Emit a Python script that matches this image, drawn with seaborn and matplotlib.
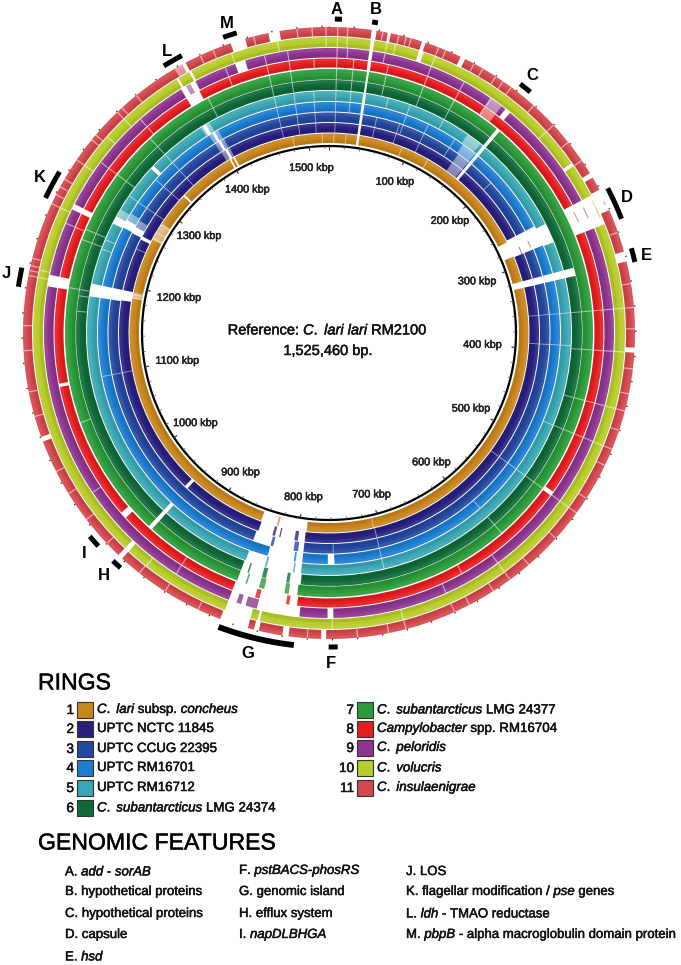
import numpy as np
import pandas as pd
import seaborn as sns
import matplotlib.pyplot as plt
import matplotlib.patheffects as pe

genome_kbp = 1525.46

ring_names = [r'$\mathit{C.\ lari}$ subsp. $\mathit{concheus}$', 'UPTC NCTC 11845', 'UPTC CCUG 22395',
              'UPTC RM16701', 'UPTC RM16712', r'$\mathit{C.\ subantarcticus}$ LMG 24374',
              r'$\mathit{C.\ subantarcticus}$ LMG 24377', r'$\mathit{Campylobacter}$ spp. RM16704',
              r'$\mathit{C.\ peloridis}$', r'$\mathit{C.\ volucris}$', r'$\mathit{C.\ insulaenigrae}$']
ring_colors = ['#C8851C', '#28207F', '#23479E', '#1C7CD0', '#3AA7B5', '#0F6A38',
               '#2A9A3A', '#E51E20', '#8E3590', '#B8CC2A', '#D4474C']
ring_inner = [190, 200.5, 211, 221.5, 232, 243, 253.5, 265.5, 275.5, 286, 297]
ring_outer = [199.5, 210, 220.5, 231, 242, 253, 264, 274.5, 285, 296, 306]

# unaligned stretches per ring, kbp
gaps_1 = [(34.5, 37.5), (267, 286), (318, 326), (790, 847), (1327, 1329.5), (1399, 1401), (1404, 1406)]
gaps_2 = [(34.5, 37.5), (167, 170.5), (265, 287), (318, 326), (791, 846), (942, 946), (1182, 1194), (1256, 1260), (1400, 1403)]
gaps_3 = [(34.5, 37.5), (167, 170.5), (265, 287), (318, 326), (791, 848), (1181, 1194), (1258, 1266), (1398, 1401)]
gaps_4 = [(34.5, 37.5), (167, 170.5), (265, 287), (318, 326), (757, 764), (791, 828), (1181, 1194), (1259, 1268), (1397, 1400)]
gaps_5 = [(34.5, 37.5), (167, 170.5), (268, 288), (318, 326), (791, 848), (941, 945), (1181, 1194), (1258, 1266), (1325, 1329), (1392, 1396)]
gaps_6 = [(35, 37), (167, 170.5), (318, 326), (790, 849), (941, 945)]
gaps_7 = [(35, 37), (167, 170.5), (792, 849), (941, 945)]
gaps_8 = [(34.5, 37.5), (264, 290), (531, 535), (791, 850), (965, 971), (1096, 1099), (1184, 1194), (1253, 1258), (1393, 1406)]
gaps_9 = [(34.5, 37.5), (162, 167), (264, 290), (759, 764), (788, 850), (1184, 1194), (1253, 1258), (1393, 1398), (1402, 1407), (1444, 1453)]
gaps_10 = [(34.5, 37.5), (75, 79), (233, 236), (264, 290), (820, 822), (828, 850), (943, 947), (1394, 1396), (1406, 1408)]
gaps_11 = [(34, 38), (47, 49.5), (75, 78), (108, 112), (248, 252), (263, 281), (316, 324), (393, 397), (765, 769),
           (795, 800), (819, 823), (828, 851), (943, 947), (1056, 1060), (1404, 1407), (1446, 1458), (1477, 1486)]

# thin pale lines per ring, kbp
stripes_1 = [6, 21, 91, 126, 708, 1187, 1191, 1264, 1272, 1283, 1481, 1517]
stripes_2 = [7, 53, 79, 108, 361, 394, 534, 707, 1098, 1244, 1290, 1320, 1345, 1470, 1490, 1510]
stripes_3 = [7, 53, 79, 83, 108, 140, 200, 361, 394, 534, 707, 758, 1098, 1290, 1320, 1345, 1470, 1490, 1510]
stripes_4 = [7, 22, 83, 108, 140, 361, 394, 534, 590, 707, 1098, 1290, 1320, 1345, 1470, 1490, 1510]
stripes_5 = [7, 22, 60, 83, 120, 361, 394, 476, 534, 707, 1230, 1240, 1290, 1345, 1470, 1490, 1510]
stripes_6 = [7, 22, 53, 89, 120, 361, 397, 444, 476, 534, 590, 1165, 1180, 1186, 1232, 1242, 1300, 1345, 1410, 1470, 1490]
stripes_7 = [7, 22, 53, 89, 120, 361, 397, 444, 476, 534, 590, 1060, 1186, 1232, 1242, 1300, 1345, 1410, 1470, 1490]
stripes_8 = [7, 22, 53, 89, 120, 147, 361, 397, 444, 476, 534, 640, 800, 900, 1240, 1300, 1350, 1435, 1470, 1490, 1512]
stripes_9 = [7, 16, 48, 89, 120, 147, 361, 397, 444, 476, 534, 609, 660, 900, 1000, 1240, 1300, 1350, 1435, 1470, 1490]
stripes_10 = [7, 15, 48, 55, 89, 200, 361, 397, 444, 476, 534, 609, 701, 760, 924, 1190, 1196, 1250, 1290, 1320, 1340, 1444, 1483, 1523]
stripes_11 = [7, 15, 43, 56, 62, 66, 89, 95, 120, 128, 140, 147, 155, 178, 200, 218, 236, 300, 342, 361, 378, 410, 430, 444, 460,
              476, 490, 520, 534, 560, 590, 609, 625, 647, 660, 701, 715, 740, 780, 870, 900, 925, 960, 985, 1010, 1030, 1077, 1097,
              1130, 1150, 1190, 1194, 1198, 1204, 1250, 1258, 1265, 1272, 1290, 1310, 1315, 1340, 1345, 1360, 1420, 1431, 1465, 1500, 1512, 1523]

# washed out stretches as (ring, start, end)
pale_ring = [2, 3, 4, 5, 2, 3, 4, 5, 8, 9, 1, 1, 9, 11, 3, 4, 5]
pale_start = [152, 152, 150, 148, 1395, 1394, 1393, 1390, 146, 146, 1186, 1262, 1398, 1397, 1266, 1268, 1266]
pale_end = [166, 166, 166, 164, 1406, 1405, 1404, 1400, 158, 158, 1194, 1285, 1402, 1404, 1274, 1276, 1274]

# short fragments left inside the big gaps as (ring, start, end)
frag_ring = [1, 2, 2, 2, 3, 3, 4, 5, 5, 6, 6, 6, 7, 7, 7, 8, 8, 9, 9, 11, 10, 2, 3, 8, 9, 10]
frag_start = [825, 826, 819.5, 799, 825, 797, 798, 826, 797.5, 824, 841, 801, 823, 839.5, 800, 825, 798, 839, 825, 273, 276, 278, 276, 270, 270, 268]
frag_end = [827, 829, 821, 803, 828, 802, 800, 828, 799, 828, 842.5, 804, 828, 841, 804, 829, 801, 843, 835, 276, 284, 287, 284, 280, 280, 282]

kbp_ticks = [100, 200, 300, 400, 500, 600, 700, 800, 900, 1000, 1100, 1200, 1300, 1400, 1500]
kbp_radius = [165, 165, 157, 154, 161, 165, 167, 166, 165, 161, 154, 154, 162, 165, 166]

feature_names = ['A', 'B', 'C', 'D', 'E', 'F', 'G', 'H', 'I', 'J', 'K', 'L', 'M']
feature_start = [4.5, 33.5, 159, 265, 315, 756, 790, 939, 963, 1180, 1252, 1391, 1442]
feature_end = [10, 38, 169, 291, 326, 763, 850, 947, 973, 1195, 1275, 1407, 1453]

features_col1 = [r'A. $\mathit{add}$ - $\mathit{sorAB}$', 'B. hypothetical proteins', 'C. hypothetical proteins',
                 'D. capsule', r'E. $\mathit{hsd}$']
features_col2 = [r'F. $\mathit{pstBACS}$-$\mathit{phosRS}$', 'G. genomic island', 'H. efflux system',
                 r'I. $\mathit{napDLBHGA}$']
features_col3 = ['J. LOS', r'K. flagellar modification / $\mathit{pse}$ genes', r'L. $\mathit{ldh}$ - TMAO reductase',
                 r'M. $\mathit{pbpB}$ - alpha macroglobulin domain protein']

all_gaps = [gaps_1, gaps_2, gaps_3, gaps_4, gaps_5, gaps_6, gaps_7, gaps_8, gaps_9, gaps_10, gaps_11]
all_stripes = [stripes_1, stripes_2, stripes_3, stripes_4, stripes_5, stripes_6, stripes_7, stripes_8, stripes_9,
               stripes_10, stripes_11]

sns.set_theme(style='white')
plt.rcParams['font.family'] = ['Liberation Sans', 'DejaVu Sans']
plt.rcParams['mathtext.fontset'] = 'custom'
plt.rcParams['mathtext.rm'] = 'Liberation Sans'
plt.rcParams['mathtext.it'] = 'Liberation Sans:italic'
plt.rcParams['mathtext.bf'] = 'Liberation Sans:bold'
palette = sns.color_palette(ring_colors)
# the scanned text is a little heavier than the plain font
heavy = [pe.withStroke(linewidth=0.35, foreground='#111111')]


def to_theta(kbp):
  return np.asarray(kbp) / genome_kbp * 2 * np.pi


def kept_segments(gaps):
  segs = []
  pos = 0
  for a, b in sorted(gaps):
    segs.append((pos, a))
    pos = b
  segs.append((pos, genome_kbp))
  return segs


def arc_bar(ax, a, b, r0, r1, **kw):
  ax.bar(to_theta((a + b) / 2), r1 - r0, width=to_theta(b - a), bottom=r0, linewidth=0, **kw)


fig = plt.figure(figsize=(6.81, 9.65), dpi=100)
cx, cy, rmax = 329, 333, 327
ax = fig.add_axes([(cx - rmax) / 681, (965 - cy - rmax) / 965, 2 * rmax / 681, 2 * rmax / 965], projection='polar')
ax.set_theta_zero_location('N')
ax.set_theta_direction(-1)
ax.set_ylim(0, rmax)
ax.set_axis_off()

for i, gaps in enumerate(all_gaps):
  r0, r1 = ring_inner[i], ring_outer[i]
  h = r1 - r0
  for a, b in kept_segments(gaps):
    arc_bar(ax, a, b, r0, r1, color=palette[i])
    # darker inner edge and lighter outer edge, as the overlaid identity bands look
    arc_bar(ax, a, b, r0, r0 + 0.35 * h, color='black', alpha=0.08)
    arc_bar(ax, a, b, r1 - 0.35 * h, r1, color='white', alpha=0.08)
  for s in all_stripes[i]:
    arc_bar(ax, s - 0.5, s + 0.5, r0, r1, color='white', alpha=0.55)

for ring, a, b in zip(pale_ring, pale_start, pale_end):
  arc_bar(ax, a, b, ring_inner[ring - 1], ring_outer[ring - 1], color='white', alpha=0.45)

for ring, a, b in zip(frag_ring, frag_start, frag_end):
  r0, r1 = ring_inner[ring - 1], ring_outer[ring - 1]
  if a < 300:
    # faint lines crossing the capsule gap
    arc_bar(ax, a, b, r1 - 2, r1 - 1, color=palette[ring - 1], alpha=0.55)
  else:
    arc_bar(ax, a, b, r0, r1, color=palette[ring - 1], alpha=0.8)

# backbone circle and ticks
th = np.linspace(0, 2 * np.pi, 720)
ax.plot(th, np.full_like(th, 187), color='black', lw=1.6)
minor = np.arange(0, genome_kbp, 20)
ax.vlines(to_theta(minor), 184, 187, color='#555555', lw=0.5)
ax.vlines(to_theta(np.arange(0, genome_kbp, 100)), 183, 187, color='#333333', lw=0.7)
ax.vlines(to_theta(minor), 306, 307.5, color='#333333', lw=0.9)

for k, r in zip(kbp_ticks, kbp_radius):
  ax.text(to_theta(k), r, f'{k} kbp', ha='center', va='center', fontsize=7.8, color='#222222',
          path_effects=heavy)

# feature arcs
for name, a, b in zip(feature_names, feature_start, feature_end):
  ft = to_theta(np.linspace(a, b, 30))
  ax.plot(ft, np.full_like(ft, 314), color='black', lw=4.2 if name == 'G' else 3.6, solid_capstyle='butt')

# overlay in image pixels for labels and key
ov = fig.add_axes([0, 0, 1, 1])
ov.patch.set_alpha(0)

label_x = [337, 376, 532, 627, 646, 331, 248, 104, 84, 6, 40, 167, 227]
label_y = [9, 10, 75, 197, 256, 663, 653, 575, 554, 273, 177, 52, 24]
for name, x, y in zip(feature_names, label_x, label_y):
  ov.text(x, y, name, fontsize=12, fontweight='bold', ha='center', va='center', color='black')

ov.text(328, 330, r'Reference: $\mathit{C.\ lari\ lari}$ RM2100', fontsize=10.5, ha='center', va='center',
        color='#111111', path_effects=heavy)
ov.text(328, 351, '1,525,460 bp.', fontsize=10.5, ha='center', va='center', color='#111111', path_effects=heavy)

ov.text(38, 683, 'RINGS', fontsize=16.6, ha='left', va='center', color='black', path_effects=heavy)
ov.text(38, 843, 'GENOMIC FEATURES', fontsize=16.6, ha='left', va='center', color='black', path_effects=heavy)

key_x = [85] * 6 + [365] * 5
key_y = [710, 729, 749, 768, 788, 808, 710, 729, 748, 768, 788]
key = pd.DataFrame({'x': key_x, 'y': key_y, 'ring': [str(i + 1) for i in range(11)]})
sns.scatterplot(data=key, x='x', y='y', hue='ring', palette=ring_colors, marker='s', s=130,
                edgecolor='#333333', linewidth=0.8, legend=False, ax=ov)
for i, row in key.iterrows():
  ov.text(row['x'] - 11, row['y'], row['ring'], fontsize=9.8, ha='right', va='center', color='#111111',
          path_effects=heavy)
  ov.text(row['x'] + 12, row['y'], ring_names[i], fontsize=9.6, ha='left', va='center', color='#111111',
          path_effects=heavy)

for col_x, col, ys in [(65, features_col1, [872, 892, 914, 935, 957]),
                       (239, features_col2, [871, 892, 914, 935]),
                       (406, features_col3, [872, 892, 914, 935])]:
  for t, y in zip(col, ys):
    ov.text(col_x, y, t, fontsize=9.5, ha='left', va='center', color='#111111', path_effects=heavy)

ov.set_xlim(0, 681)
ov.set_ylim(965, 0)
ov.set_axis_off()

plt.savefig('out.png', dpi=100)
plt.close()
